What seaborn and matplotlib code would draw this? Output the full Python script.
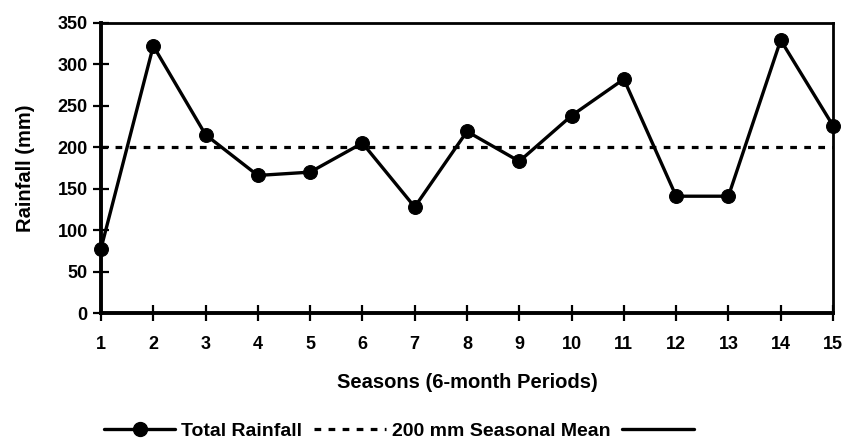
import matplotlib
matplotlib.use("Agg")
import matplotlib.pyplot as plt
from matplotlib.lines import Line2D
import seaborn as sns
import pandas as pd

# Seasonal rainfall totals (mm) over 15 six-month periods
seasons = list(range(1, 16))
rainfall = [78, 322, 215, 166, 170, 205, 128, 219, 183, 238, 282, 141, 141, 329, 226]
seasonal_mean = 200
y_ticks = [0, 50, 100, 150, 200, 250, 300, 350]

df = pd.DataFrame({"Season": seasons, "Rainfall": rainfall})

sns.set_style("ticks")
plt.rcParams["font.family"] = ["Liberation Sans", "DejaVu Sans"]
plt.rcParams["font.weight"] = "bold"
plt.rcParams["text.color"] = "black"
plt.rcParams["axes.labelcolor"] = "black"

DOTS = (0, (2.1, 2.3))

fig = plt.figure(figsize=(8.46, 4.41), dpi=100)
ax = fig.add_axes([0.1194, 0.2896, 0.8652, 0.659])

sns.lineplot(data=df, x="Season", y="Rainfall", ax=ax, color="black",
             linewidth=2.4, marker="o", markersize=10, markeredgecolor="black",
             markerfacecolor="black", clip_on=False, zorder=3)
ax.axhline(seasonal_mean, color="black", linewidth=2.3, linestyle=DOTS, zorder=2)

ax.set_xlim(1, 15)
ax.set_ylim(0, 350)
ax.set_xticks(seasons)
ax.set_yticks(y_ticks)
ax.tick_params(axis="both", direction="inout", length=11, width=1.6,
               colors="black", labelsize=13, bottom=True, left=True)
ax.tick_params(axis="x", pad=11)
ax.tick_params(axis="y", pad=4)
for lab in ax.get_xticklabels() + ax.get_yticklabels():
    lab.set_fontweight("bold")

for side in ["top", "right"]:
    ax.spines[side].set_visible(True)
    ax.spines[side].set_linewidth(2.0)
    ax.spines[side].set_color("black")
for side in ["left", "bottom"]:
    ax.spines[side].set_linewidth(2.8)
    ax.spines[side].set_color("black")

ax.set_xlabel("Seasons (6-month Periods)", fontsize=14.5, fontweight="bold",
              labelpad=14)
ax.set_ylabel("Rainfall (mm)", fontsize=14.5, fontweight="bold", labelpad=16)

handles = [
    Line2D([], [], color="black", linewidth=2.4, marker="o", markersize=10),
    Line2D([], [], color="black", linewidth=2.3, linestyle=DOTS),
    Line2D([], [], color="black", linewidth=2.4),
]
labels = ["Total Rainfall", "200 mm Seasonal Mean", " "]
fig.legend(handles, labels, loc="center", bbox_to_anchor=(0.478, 0.022),
           ncol=3, frameon=False, prop={"weight": "bold", "size": 14},
           handlelength=3.7, handletextpad=0.3, columnspacing=0.6,
           borderpad=0, borderaxespad=0)

fig.savefig("out.png", dpi=100)
